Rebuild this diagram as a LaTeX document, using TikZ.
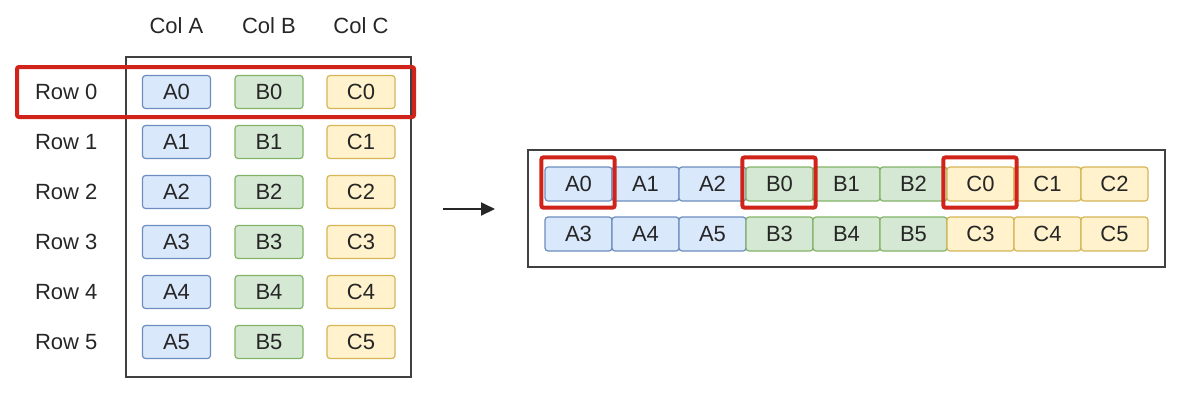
\documentclass[tikz,border=0pt]{standalone}
\usepackage{fontspec}
\setmainfont{Liberation Sans}
\usetikzlibrary{arrows.meta,positioning}
\definecolor{Afill}{HTML}{DAE8FC}
\definecolor{Aline}{HTML}{6C8EBF}
\definecolor{Bfill}{HTML}{D5E8D4}
\definecolor{Bline}{HTML}{82B366}
\definecolor{Cfill}{HTML}{FFF2CC}
\definecolor{Cline}{HTML}{D6B656}
\definecolor{hired}{HTML}{D0241A}
\begin{document}
\begin{tikzpicture}[
    x=0.5pt, y=-0.5pt,
    every node/.style={font=\fontsize{11}{13}\selectfont, text=black!85},
    cell/.style={rectangle, draw=#1line, fill=#1fill, rounded corners=1.5pt, line width=0.6pt, minimum width=34pt, minimum height=16.5pt, inner sep=0pt}, % coloured cell
    flat/.style={minimum width=33.5pt, minimum height=17pt}, % cells of the flat strip
    frame/.style={draw=black!75, line width=1pt},
    hilite/.style={draw=hired, line width=2pt, rounded corners=1pt} % red marks
]
\useasboundingbox (0,0) rectangle (1193,404);
% table
\draw[frame] (126,57) rectangle (411,377);
\foreach \L/\xx in {A/176.5,B/269,C/361}
    \node (h\L) at (\xx,26) {Col \L};
\foreach \r in {0,...,5} {
    \node[anchor=west] (row\r) at (28,{92+50*\r}) {Row \r};
    \node[cell=A] (a\r) at (176.5,{92+50*\r}) {A\r};
    \node[cell=B] (b\r) at (269,{92+50*\r}) {B\r};
    \node[cell=C] (c\r) at (361,{92+50*\r}) {C\r};
}
\draw[hilite] (17,67) rectangle (414,117);
% arrow
\coordinate (arrS) at (443,209);
\coordinate (arrE) at (495,209);
\draw[-{Triangle[length=7pt,width=6.5pt]}, line width=1pt, black!85] (arrS) -- (arrE);
% flat layout
\draw[frame] (528,150) rectangle (1165,267);
\foreach \L [count=\j from 0] in {A,B,C}
    \foreach \n in {0,1,2} {
        \pgfmathsetmacro\xx{578.5+67*(3*\j+\n)}
        \pgfmathtruncatemacro\m{\n+3}
        \node[cell=\L, flat] (f\L\n) at (\xx,184) {\L\n};
        \node[cell=\L, flat] (f\L\m) at (\xx,234) {\L\m};
    }
\foreach \L in {A,B,C}
    \draw[hilite] ([shift={(-3,-9)}]f\L0.north west) rectangle ([shift={(2,6)}]f\L0.south east);
\end{tikzpicture}
\end{document}
